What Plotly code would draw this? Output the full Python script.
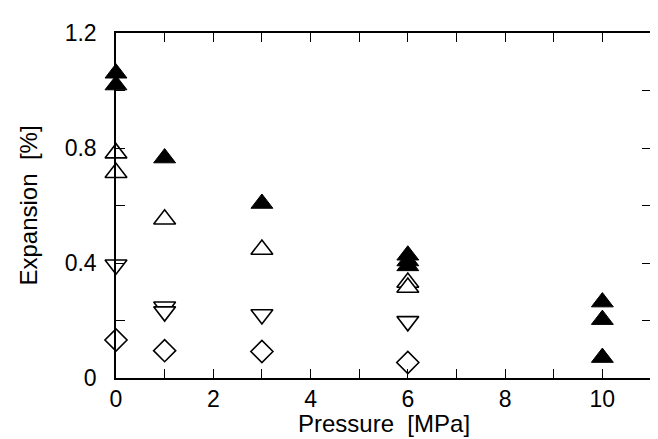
import plotly.graph_objects as go

# Data
filled_up_x = [0, 0, 1, 3, 6, 6, 6, 10, 10, 10]
filled_up_y = [1.060, 1.019, 0.765, 0.607, 0.427, 0.407, 0.390, 0.264, 0.203, 0.071]

open_up_x = [0, 0, 1, 3, 6, 6]
open_up_y = [0.782, 0.714, 0.552, 0.447, 0.332, 0.315]

open_down_x = [0, 1, 1, 3, 6]
open_down_y = [0.394, 0.248, 0.231, 0.221, 0.197]

diamond_x = [0, 1, 3, 6]
diamond_y = [0.132, 0.095, 0.092, 0.054]

x_ticks = [0, 2, 4, 6, 8, 10]
y_ticks = [0, 0.4, 0.8, 1.2]
y_tick_text = ["0", "0.4", "0.8", "1.2"]

x_title = "Pressure  [MPa]"
y_title = "Expansion  [%]"

FONT = "Liberation Sans, Arial, Helvetica, sans-serif"
FS = 23

fig = go.Figure()
fig.add_trace(go.Scatter(x=diamond_x, y=diamond_y, mode="markers", cliponaxis=False,
                         marker=dict(symbol="diamond", size=17, color="white",
                                     line=dict(color="black", width=1.6))))
fig.add_trace(go.Scatter(x=open_down_x, y=open_down_y, mode="markers", cliponaxis=False,
                         marker=dict(symbol="triangle-down", size=19, color="white",
                                     line=dict(color="black", width=1.6))))
fig.add_trace(go.Scatter(x=open_up_x, y=open_up_y, mode="markers", cliponaxis=False,
                         marker=dict(symbol="triangle-up", size=19, color="white",
                                     line=dict(color="black", width=1.6))))
fig.add_trace(go.Scatter(x=filled_up_x, y=filled_up_y, mode="markers", cliponaxis=False,
                         marker=dict(symbol="triangle-up", size=19, color="black",
                                     line=dict(color="black", width=1))))

axis_common = dict(showgrid=False, zeroline=False, showline=True, linecolor="black",
                   linewidth=1.5, mirror="ticks", ticks="inside", ticklen=9,
                   tickwidth=1.3, tickcolor="black",
                   tickfont=dict(family=FONT, size=FS, color="black"))

fig.update_xaxes(range=[0, 11], tickvals=x_ticks,
                 minor=dict(dtick=1, tick0=0, ticks="inside", ticklen=9, tickwidth=1.3, tickcolor="black"),
                 **axis_common)
fig.update_yaxes(range=[0, 1.2], tickvals=y_ticks, ticktext=y_tick_text,
                 ticklabelstandoff=13,
                 minor=dict(dtick=0.2, tick0=0, ticks="inside", ticklen=9, tickwidth=1.3, tickcolor="black"),
                 title=dict(text=y_title, font=dict(family=FONT, size=24, color="black"), standoff=20),
                 **axis_common)

# x-axis title placed as a paper annotation so it sits close under the tick labels
fig.add_annotation(text=x_title, xref="paper", yref="paper", x=0.5, y=-0.132,
                   xanchor="center", yanchor="middle", showarrow=False,
                   font=dict(family=FONT, size=24, color="black"))

# page body adds an 8px offset, so margins are reduced by 8px on left/top
fig.update_layout(width=658, height=439, showlegend=False,
                  margin=dict(l=108, r=15, t=17, b=69),
                  paper_bgcolor="white", plot_bgcolor="white")

fig.write_html("out.html")
